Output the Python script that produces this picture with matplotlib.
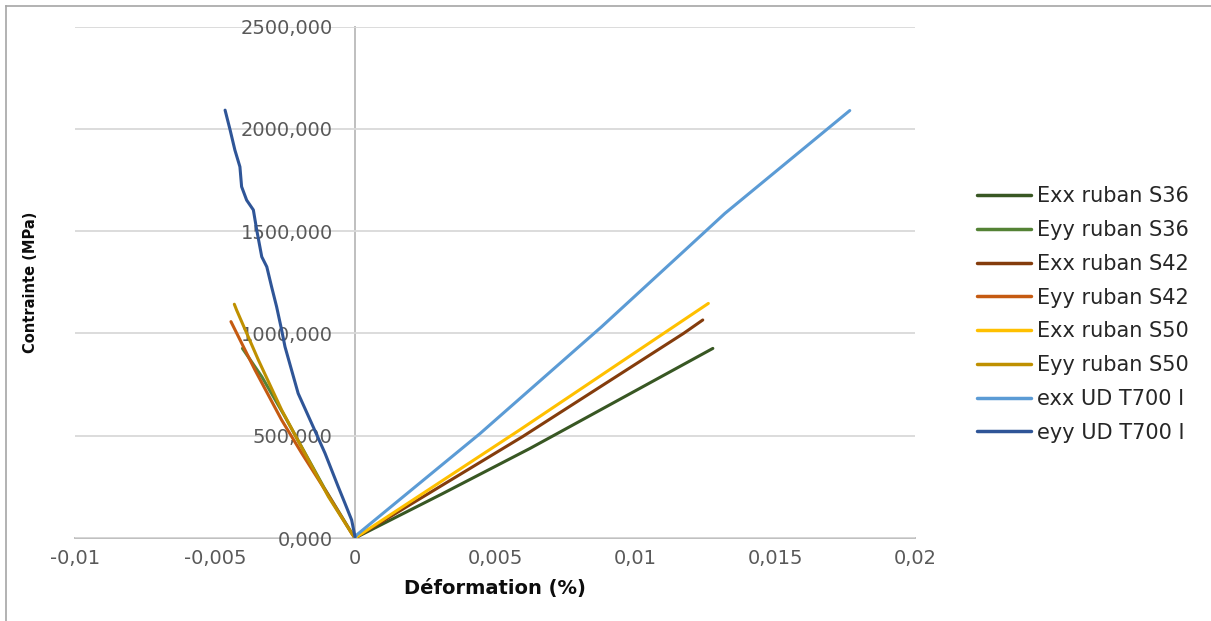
import matplotlib
matplotlib.use("Agg")
import matplotlib.pyplot as plt
from matplotlib.lines import Line2D

# ---- data (strain, stress) ----
exx_s36_x = [0.0, 0.0031, 0.00625, 0.00708, 0.01278]
exx_s36_y = [0, 215, 438, 500, 927]

eyy_s36_x = [0.0, -0.00012, -0.0011, -0.0025, -0.00333, -0.00402]
eyy_s36_y = [0, 25, 245, 593, 789, 927]

exx_s42_x = [0.0, 0.0060, 0.01173, 0.01242]
exx_s42_y = [0, 497, 1000, 1066]

eyy_s42_x = [0.0, -0.00012, -0.00107, -0.0019, -0.00262, -0.00357, -0.00443]
eyy_s42_y = [0, 23, 235, 414, 577, 821, 1058]

exx_s50_x = [0.0, 0.0059, 0.01262]
exx_s50_y = [0, 530, 1147]

eyy_s50_x = [0.0, -0.00012, -0.00095, -0.00179, -0.00262, -0.00345, -0.00423, -0.00431]
eyy_s50_y = [0, 23, 202, 414, 626, 870, 1115, 1143]

exx_t700_x = [0.0, 0.00006, 0.00446, 0.0088, 0.01179, 0.01321, 0.01767]
exx_t700_y = [0, 15, 510, 1032, 1408, 1587, 2090]

eyy_t700_x = [0.0, -0.00012, -0.00036, -0.0006, -0.00107, -0.00155, -0.00203, -0.0025,
              -0.00262, -0.0028, -0.00298, -0.00315, -0.00333, -0.00351, -0.00363,
              -0.00387, -0.00405, -0.00411, -0.00429, -0.00446, -0.00464]
eyy_t700_y = [6, 88, 170, 251, 414, 561, 707, 935,
              1017, 1131, 1229, 1326, 1375, 1506, 1604,
              1652, 1718, 1815, 1897, 1995, 2092]

series_labels = ["Exx ruban S36", "Eyy ruban S36", "Exx ruban S42", "Eyy ruban S42",
                 "Exx ruban S50", "Eyy ruban S50", "exx UD T700 I", "eyy UD T700 I"]
series_colors = ["#385723", "#548235", "#843C0C", "#C55A11",
                 "#FFC000", "#BF9000", "#5B9BD5", "#2F5597"]
series_x = [exx_s36_x, eyy_s36_x, exx_s42_x, eyy_s42_x, exx_s50_x, eyy_s50_x, exx_t700_x, eyy_t700_x]
series_y = [exx_s36_y, eyy_s36_y, exx_s42_y, eyy_s42_y, exx_s50_y, eyy_s50_y, exx_t700_y, eyy_t700_y]

x_ticks = [-0.01, -0.005, 0, 0.005, 0.01, 0.015, 0.02]
x_tick_labels = ["-0,01", "-0,005", "0", "0,005", "0,01", "0,015", "0,02"]
y_ticks = [0, 500, 1000, 1500, 2000, 2500]
y_tick_labels = ["0,000", "500,000", "1000,000", "1500,000", "2000,000", "2500,000"]

W, H = 1211, 621
fig = plt.figure(figsize=(W / 100, H / 100), dpi=100)
ax = fig.add_axes([75 / W, (H - 538) / H, (915 - 75) / W, (538 - 26.7) / H])

for xs, ys, lab, col in zip(series_x, series_y, series_labels, series_colors):
    ax.plot(xs, ys, color=col, lw=2.2, label=lab, solid_capstyle="round",
            solid_joinstyle="round", zorder=3)

ax.set_xlim(-0.01, 0.02)
ax.set_ylim(0, 2500)

ax.set_xticks(x_ticks)
ax.set_xticklabels(x_tick_labels)
ax.set_yticks(y_ticks)
ax.set_yticklabels(y_tick_labels)

grid_c = "#D9D9D9"
ax.yaxis.grid(True, color=grid_c, lw=1.3, zorder=0)
ax.xaxis.grid(False)

for s in ["top", "right"]:
    ax.spines[s].set_visible(False)
ax.spines["left"].set_position(("data", 0))
ax.spines["left"].set_color("#BFBFBF")
ax.spines["left"].set_linewidth(1.4)
ax.spines["bottom"].set_color("#BFBFBF")
ax.spines["bottom"].set_linewidth(1.4)
ax.spines["left"].set_zorder(1)
ax.spines["bottom"].set_zorder(1)

ax.tick_params(axis="y", length=0, pad=16, labelsize=14, labelcolor="#595959")
ax.tick_params(axis="x", length=0, pad=8, labelsize=14, labelcolor="#595959")

ax.set_xlabel("Déformation (%)", fontsize=14, fontweight="bold", color="#0D0D0D", labelpad=8)
fig.text(31 / W, (H - 282) / H, "Contrainte (MPa)", rotation=90, ha="center", va="center",
         fontsize=10.5, fontweight="bold", color="#0D0D0D")

leg = ax.legend(loc="center left", bbox_to_anchor=(977 / W, (H - 314.5) / H),
                bbox_transform=fig.transFigure, frameon=False, fontsize=15,
                handlelength=2.6, handletextpad=0.29, labelspacing=0.66,
                borderpad=0, borderaxespad=0)
for t in leg.get_texts():
    t.set_color("#262626")
for l in leg.get_lines():
    l.set_linewidth(2.5)

# chart-area border (left and top visible)
fig.add_artist(Line2D([5.5 / W, 5.5 / W], [0, (H - 6) / H], transform=fig.transFigure,
                      color="#A6A6A6", lw=1.2))
fig.add_artist(Line2D([5.5 / W, 1], [(H - 6) / H, (H - 6) / H], transform=fig.transFigure,
                      color="#A6A6A6", lw=1.2))

fig.savefig("out.png", dpi=100)
